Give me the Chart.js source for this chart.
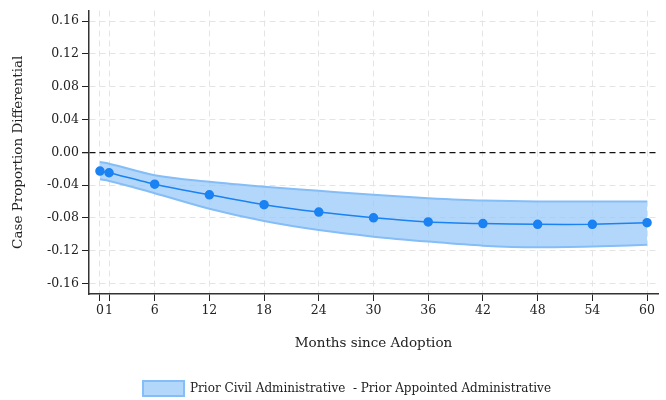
<!DOCTYPE html>
<html>
<head>
<meta charset="utf-8">
<script src="https://cdn.jsdelivr.net/npm/chart.js@4"></script>
<style>
  html, body { margin: 0; padding: 0; background: #fff; }
  #wrap { width: 666px; height: 400px; }
</style>
</head>
<body>
<div id="wrap"><canvas id="mainChart" width="666" height="400"></canvas></div>
<script>
// ======================
// DATA
// ======================
const months = [0, 1, 6, 12, 18, 24, 30, 36, 42, 48, 54, 60];
const estimate = [-0.023, -0.025, -0.039, -0.052, -0.064, -0.073, -0.080, -0.085, -0.087, -0.088, -0.088, -0.086];
const upperCI = [-0.012, -0.014, -0.028, -0.036, -0.042, -0.047, -0.052, -0.056, -0.059, -0.060, -0.060, -0.060];
const lowerCI = [-0.033, -0.035, -0.050, -0.069, -0.084, -0.095, -0.103, -0.109, -0.114, -0.116, -0.115, -0.113];
const yTicks = [-0.16, -0.12, -0.08, -0.04, 0, 0.04, 0.08, 0.12, 0.16];
const legendLabel = 'Prior Civil Administrative  - Prior Appointed Administrative';

const FONT = 'DejaVu Serif';
const toXY = (vals) => months.map((m, i) => ({ x: m, y: vals[i] }));

// nudge the legend right and down, like the original
const legendShift = {
  id: 'legendShift',
  afterLayout(chart) {
    const lg = chart.legend;
    if (lg) {
      lg.left += 18;
      lg.right += 18;
      lg.top += 6;
      lg.bottom += 6;
    }
  }
};

new Chart(document.getElementById('mainChart'), {
  type: 'line',
  data: {
    datasets: [
      {
        label: 'estimate',
        data: toXY(estimate),
        borderColor: '#1a82f2',
        backgroundColor: '#1a82f2',
        borderWidth: 1.5,
        pointRadius: 4,
        pointHoverRadius: 4,
        fill: false,
        tension: 0.2,
        order: 0
      },
      {
        label: 'upper',
        data: toXY(upperCI),
        borderColor: '#85bdf7',
        borderWidth: 2,
        pointRadius: 0,
        fill: false,
        cubicInterpolationMode: 'monotone',
        order: 1
      },
      {
        label: legendLabel,
        data: toXY(lowerCI),
        borderColor: '#85bdf7',
        backgroundColor: 'rgba(150, 200, 250, 0.72)',
        borderWidth: 2,
        pointRadius: 0,
        fill: '-1',
        cubicInterpolationMode: 'monotone',
        order: 2
      }
    ]
  },
  options: {
    responsive: false,
    animation: false,
    layout: { padding: { left: 0, right: 8, top: 8, bottom: 0 } },
    plugins: {
      legend: {
        position: 'bottom',
        labels: {
          font: { family: FONT, size: 12 },
          color: '#222',
          boxWidth: 41,
          boxHeight: 15,
          padding: 4,
          filter: (item) => item.text === legendLabel
        }
      },
      tooltip: { enabled: false }
    },
    scales: {
      x: {
        type: 'linear',
        min: -1.2,
        max: 61.2,
        afterBuildTicks: (scale) => {
          scale.ticks = months.map(v => ({ value: v }));
        },
        afterFit: (scale) => { scale.height = 77; },
        ticks: {
          autoSkip: false,
          maxRotation: 0,
          font: { family: FONT, size: 12.5 },
          color: '#222',
          padding: 2
        },
        grid: {
          color: '#e4e4e4',
          tickColor: '#222',
          tickLength: 7,
          tickBorderDash: []
        },
        border: { color: '#333', width: 1.5, dash: [6, 4] },
        title: {
          display: true,
          text: 'Months since Adoption',
          font: { family: FONT, size: 13.5 },
          color: '#222',
          padding: { top: 0, bottom: 19 }
        }
      },
      y: {
        min: -0.173,
        max: 0.173,
        afterBuildTicks: (scale) => {
          scale.ticks = yTicks.map(v => ({ value: v }));
        },
        afterFit: (scale) => { scale.width = 89; },
        ticks: {
          font: { family: FONT, size: 12.5 },
          color: '#222',
          padding: 3,
          callback: (v) => Number(v).toFixed(2)
        },
        grid: {
          color: (ctx) => (ctx.tick && ctx.tick.value === 0) ? '#111' : '#e4e4e4',
          lineWidth: (ctx) => (ctx.tick && ctx.tick.value === 0) ? 1.3 : 1,
          tickColor: '#222',
          tickLength: 7,
          tickBorderDash: []
        },
        border: { color: '#333', width: 1.5, dash: [6, 4] },
        title: {
          display: true,
          text: 'Case Proportion Differential',
          font: { family: FONT, size: 13.5 },
          color: '#222',
          padding: { top: 10, bottom: 0 }
        }
      }
    }
  },
  plugins: [legendShift]
});
</script>
</body>
</html>
